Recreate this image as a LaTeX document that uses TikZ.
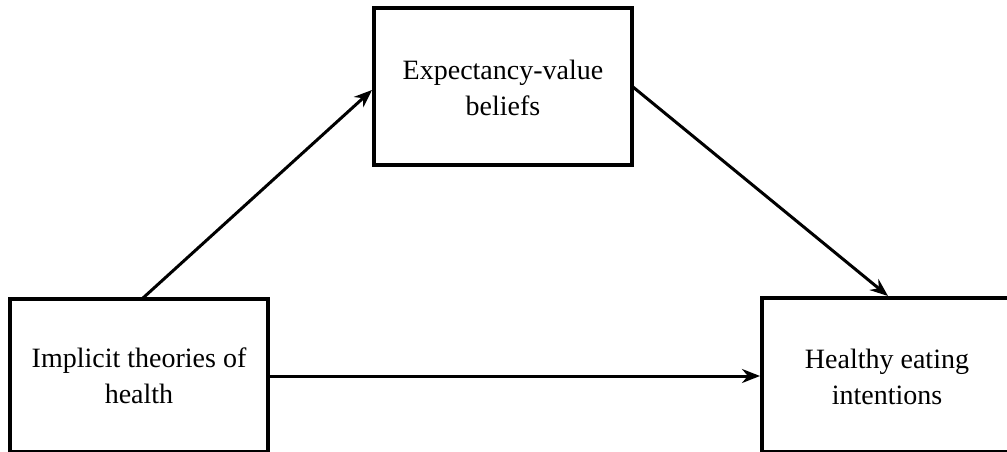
\documentclass[tikz,border=0pt]{standalone}
\usepackage{fontspec}
\setmainfont{Liberation Serif}
\usetikzlibrary{arrows.meta}
\begin{document}
\begin{tikzpicture}[x=1pt,y=-1pt,
  box/.style={draw=black, line width=3.5pt, inner sep=0pt},
  lbl/.style={align=center, font=\fontsize{28}{35.5}\selectfont},
  conn/.style={draw=black, line width=3pt, -{Stealth[length=18pt,width=14pt]}}]
\useasboundingbox (0,0) rectangle (1007,452);
\fill[white] (0,0) rectangle (1007,452);
\draw[box] (374,8) rectangle (632,165);
\draw[box] (10,299) rectangle (268,452);
\draw[box] (762,298) rectangle (1013,452);
\node[lbl] (ev) at (503,88) {Expectancy-value\\beliefs};
\node[lbl] (it) at (139,376) {Implicit theories of\\health};
\node[lbl] (he) at (887,377) {Healthy eating\\intentions};
\coordinate (evL) at (372,90);
\coordinate (evR) at (633,87);
\coordinate (itT) at (143,298);
\coordinate (itR) at (269,376);
\coordinate (heL) at (760,376);
\coordinate (heT) at (888,296);
\draw[conn] (itT) -- (evL);
\draw[conn] (evR) -- (heT);
\draw[conn] (itR) -- (heL);
\end{tikzpicture}
\end{document}
